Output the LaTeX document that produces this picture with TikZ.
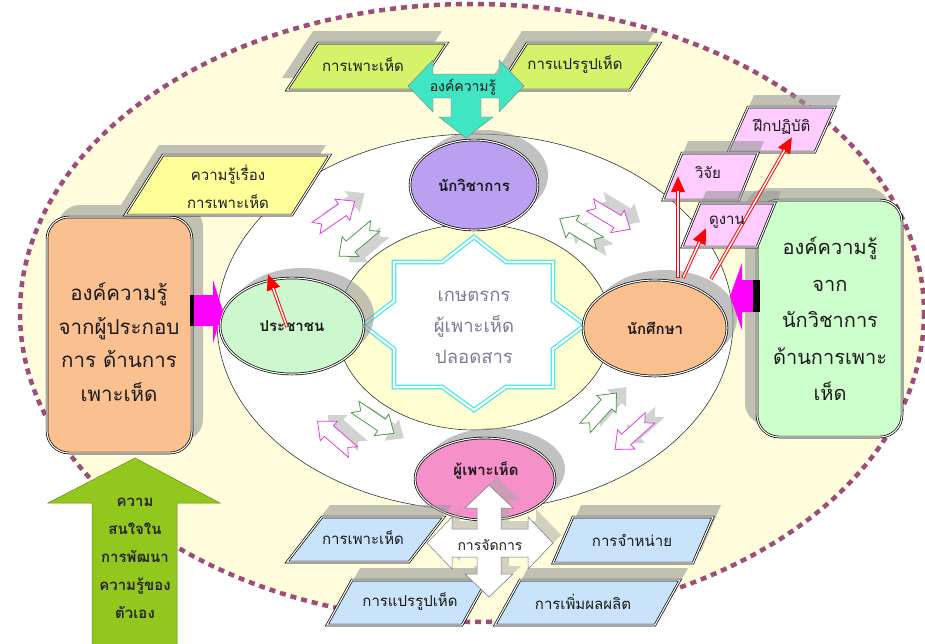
\documentclass[tikz,border=0pt]{standalone}
\usepackage{fontspec}
\newfontfamily\thaif[Script=Thai]{Loma}
\usetikzlibrary{shapes.geometric,arrows.meta,calc}
\definecolor{cream}{HTML}{FFFDDC}
\definecolor{innercream}{HTML}{FFFFD2}
\definecolor{dashc}{HTML}{9E4D7A}
\definecolor{starc}{HTML}{3EE8E8}
\definecolor{startxt}{HTML}{7E7C9C}
\definecolor{purp}{HTML}{BBA0F2}
\definecolor{peoplec}{HTML}{CDF7CD}
\definecolor{orangec}{HTML}{FAC090}
\definecolor{pinkc}{HTML}{F590C8}
\definecolor{limec}{HTML}{D4F26A}
\definecolor{yelc}{HTML}{FFFF99}
\definecolor{lilac}{HTML}{FFCCFF}
\definecolor{bluec}{HTML}{C9E3FA}
\definecolor{mintc}{HTML}{CCFFCC}
\definecolor{turq}{HTML}{40E6C4}
\definecolor{leaf}{HTML}{92C71E}
\definecolor{magc}{HTML}{FF00FF}
\definecolor{ngreen}{HTML}{4E9A4E}
\definecolor{npink}{HTML}{E040E0}
\definecolor{txtc}{HTML}{1A1A1A}

\newcommand\para[8]{%
  \fill[shd] ({#2+#7},{#3+#8}) -- ++(#4,0) -- ++(-#5,#6) -- ++(-#4,0) -- cycle;
  \draw[dbl, fill=#1, line join=miter] (#2,#3) -- ++(#4,0) -- ++(-#5,#6) -- ++(-#4,0) -- cycle;}

\tikzset{
  shd/.style={fill=black!40, opacity=0.6},
  lshd/.style={fill=black!35, opacity=0.5},
  dbl/.style={draw=black, line width=0.7pt, double=white, double distance=1.1pt},
  ell/.style={shape=ellipse, dbl, inner sep=0pt, font=\thaif\bfseries\fontsize{15}{18}\selectfont, text=txtc},
  lbl/.style={font=\thaif\fontsize{15}{18}\selectfont, align=center, inner sep=0pt, text=txtc},
  redout/.style={draw=red, line width=3.4pt, -{Triangle[length=16pt,width=13pt]}},
  redin/.style={draw=white, line width=1.5pt, shorten >=15pt, shorten <=0.6pt},
  notch/.pic={\path[pic actions] (0,-7) -- (32,-7) -- (32,-13) -- (47,0) -- (32,13) -- (32,7) -- (0,7) -- (7,0) -- cycle;},
  pk/.style={draw=npink, fill=white, line width=0.8pt},
  gn/.style={draw=ngreen, fill=white, line width=0.8pt}
}

\begin{document}
\begin{tikzpicture}[x=1pt,y=-1pt]
\useasboundingbox (0,0) rectangle (925,643);
\fill[white] (0,0) rectangle (925,643);

% big dashed ellipse
\draw[fill=cream, draw=dashc, line width=4.5pt, dash pattern=on 6pt off 5pt] (472,313) ellipse [x radius=452, y radius=309];

% left knowledge box
\fill[shd, rounded corners=22pt] (58,205) rectangle (203,441);
\draw[dbl, fill=orangec, rounded corners=22pt] (47,217) rectangle (192,453);
% right knowledge box
\fill[shd, rounded corners=22pt] (745,188) rectangle (890,425);
\draw[dbl, fill=mintc, rounded corners=22pt] (757,200) rectangle (902,437);

% ring and inner ellipse
\draw[fill=white, draw=black!80, line width=0.6pt] (475,322) ellipse [x radius=258, y radius=188];
\draw[fill=innercream, draw=black!80, line width=0.6pt] (474,327) ellipse [x radius=137, y radius=103];

% star
\draw[draw=starc, line width=1.2pt, double=white, double distance=2.2pt, fill=white, line join=miter]
  (474,237) -- (506,262) -- (553,262) -- (553,301) -- (585,325) -- (553,349) -- (553,387) -- (506,387)
  -- (474,410) -- (442,387) -- (394,387) -- (394,349) -- (363,325) -- (394,301) -- (394,262) -- (442,262) -- cycle;

% small notched arrows (shadows then arrows)
\pic[lshd, rotate=34.7] at (326,220) {notch};
\pic[pk, rotate=34.7] at (316,228) {notch};
\pic[lshd, rotate=220] at (385,232) {notch};
\pic[gn, rotate=220] at (375,226) {notch};
\pic[lshd, rotate=149] at (610,250) {notch};
\pic[gn, rotate=149] at (600,243) {notch};
\pic[lshd, rotate=-31] at (600,198) {notch};
\pic[pk, rotate=-31] at (590,205) {notch};
\pic[lshd, rotate=-34] at (365,412) {notch};
\pic[gn, rotate=-34] at (355,407) {notch};
\pic[lshd, rotate=139] at (363,446) {notch};
\pic[pk, rotate=139] at (353,452) {notch};
\pic[lshd, rotate=48] at (595,422) {notch};
\pic[gn, rotate=48] at (585,428) {notch};
\pic[lshd, rotate=222] at (660,412) {notch};
\pic[pk, rotate=222] at (650,418) {notch};

% ellipse shadows
\fill[shd] (484,175) ellipse [x radius=64, y radius=45];
\fill[shd] (302,316) ellipse [x radius=72, y radius=48];
\fill[shd] (665,318) ellipse [x radius=72, y radius=48];
\fill[shd] (495,469) ellipse [x radius=70, y radius=41];

% ellipses
\node[ell, fill=purp, minimum width=128pt, minimum height=90pt] (acad) at (474,185) {นักวิชาการ};
\node[ell, fill=peoplec, minimum width=144pt, minimum height=96pt] (people) at (292,326) {ประชาชน};
\node[ell, fill=orangec, minimum width=144pt, minimum height=96pt] (student) at (655,328) {นักศึกษา};
\node[ell, fill=pinkc, minimum width=140pt, minimum height=82pt] (grower) at (485,479) {};
\node[font=\thaif\bfseries\fontsize{15}{18}\selectfont, text=txtc, inner sep=0pt] (growertxt) at (486,470) {ผู้เพาะเห็ด};

% magenta block arrows
\fill[magc] (193,295) -- (213,295) -- (213,280) -- (223,311) -- (213,343) -- (213,326) -- (193,326) -- cycle;
\fill[black] (190,295) rectangle (194,326);
\fill[magc] (754,280) -- (742,280) -- (742,263) -- (730,296) -- (742,330) -- (742,312) -- (754,312) -- cycle;
\fill[black] (753,280) rectangle (760,312);

% top lime boxes
\para{limec}{318}{43}{129}{31}{47}{-5}{-12}
\para{limec}{527}{43}{133}{30}{47}{-5}{-12}
% turquoise three-way arrow
\draw[fill=turq, draw=black!50, line width=0.4pt]
  (408,86) -- (433,60) -- (433,74) -- (499,74) -- (499,60) -- (524,86) -- (499,112) -- (499,98)
  -- (481,98) -- (481,117) -- (493,117) -- (466,138) -- (439,117) -- (451,117) -- (451,98)
  -- (433,98) -- (433,112) -- cycle;

% yellow box
\para{yelc}{163}{155}{167}{38}{60}{-4}{-10}

% pink boxes
\para{lilac}{748}{107}{87}{20}{45}{6}{-12}
\para{lilac}{682}{153}{76}{19}{47}{6}{-12}
\para{lilac}{700}{203}{75}{18}{44}{6}{-12}

% blue boxes
\para{bluec}{322}{517}{122}{35}{45}{8}{-12}
\para{bluec}{573}{517}{140}{20}{46}{8}{-12}
\para{bluec}{352}{580}{135}{25}{45}{8}{-12}
\para{bluec}{520}{580}{160}{25}{45}{8}{-12}

% white four-way arrow
\fill[lshd] (497,477) -- (521,500) -- (509,500) -- (509,521) -- (536,521) -- (536,509) -- (561,535) -- (536,561) -- (536,549) -- (509,549) -- (509,566) -- (521,566) -- (497,589) -- (473,566) -- (485,566) -- (485,549) -- (460,549) -- (460,561) -- (435,535) -- (460,509) -- (460,521) -- (485,521) -- (485,500) -- (473,500) -- cycle;
\draw[fill=white, draw=black!55, line width=0.5pt]
  (489,485) -- (513,508) -- (501,508) -- (501,529) -- (528,529) -- (528,517) -- (553,543) -- (528,569)
  -- (528,557) -- (501,557) -- (501,574) -- (513,574) -- (489,597) -- (465,574) -- (477,574) -- (477,557)
  -- (452,557) -- (452,569) -- (427,543) -- (452,517) -- (452,529) -- (477,529) -- (477,508) -- (465,508) -- cycle;

% green up arrow
\draw[fill=leaf, draw=leaf!70!black, line width=0.5pt] (135,458) -- (220,503) -- (177,503) -- (177,650) -- (92,650) -- (92,503) -- (48,503) -- cycle;

% red arrows
\coordinate (r1s) at (678,278);
\coordinate (r1e) at (678,176);
\coordinate (r2s) at (683,278);
\coordinate (r2e) at (706,228);
\coordinate (r3s) at (711,279);
\coordinate (r3e) at (792,137);
\coordinate (r4s) at (287,327);
\coordinate (r4e) at (268,274);
\foreach \s/\e in {r1s/r1e, r2s/r2e, r3s/r3e, r4s/r4e}{
  \draw[redout] (\s) -- (\e);
  \draw[redin] (\s) -- (\e);
}

% texts
\node[font=\thaif\fontsize{18.5}{31}\selectfont, text=startxt, align=center, inner sep=0pt] (farmer) at (474,327) {เกษตรกร\\ผู้เพาะเห็ด\\ปลอดสาร};
\node[font=\thaif\fontsize{20.5}{33.5}\selectfont, align=center, inner sep=0pt, text=txtc] (leftknow) at (119,342) {องค์ความรู้\\จากผู้ประกอบ\\การ ด้านการ\\เพาะเห็ด};
\node[font=\thaif\fontsize{20}{36.5}\selectfont, align=center, inner sep=0pt, text=txtc] (rightknow) at (830,319) {องค์ความรู้\\จาก\\นักวิชาการ\\ด้านการเพาะ\\เห็ด};
\node[lbl] (topgrow) at (363,65) {การเพาะเห็ด};
\node[lbl] (topproc) at (575,65) {การแปรรูปเห็ด};
\node[lbl, font=\thaif\fontsize{14}{17}\selectfont] (know) at (463,87) {องค์ความรู้};
\node[font=\thaif\fontsize{15}{28}\selectfont, align=center, inner sep=0pt, text=txtc] (topic) at (228,187) {ความรู้เรื่อง\\การเพาะเห็ด};
\node[lbl] (practice) at (782,127) {ฝึกปฏิบัติ};
\node[lbl] (research) at (708,173) {วิจัย};
\node[lbl] (visit) at (727,222) {ดูงาน};
\node[lbl] (botgrow) at (363,538) {การเพาะเห็ด};
\node[lbl] (sell) at (632,540) {การจำหน่าย};
\node[lbl] (botproc) at (410,602) {การแปรรูปเห็ด};
\node[lbl] (yield) at (583,602) {การเพิ่มผลผลิต};
\node[lbl, font=\thaif\fontsize{14}{17}\selectfont] (manage) at (490,545) {การจัดการ};
\node[font=\thaif\bfseries\fontsize{15}{28}\selectfont, align=center, inner sep=0pt, text=black!85] (interest) at (135,558) {ความ\\สนใจใน\\การพัฒนา\\ความรู้ของ\\ตัวเอง};
\end{tikzpicture}
\end{document}
